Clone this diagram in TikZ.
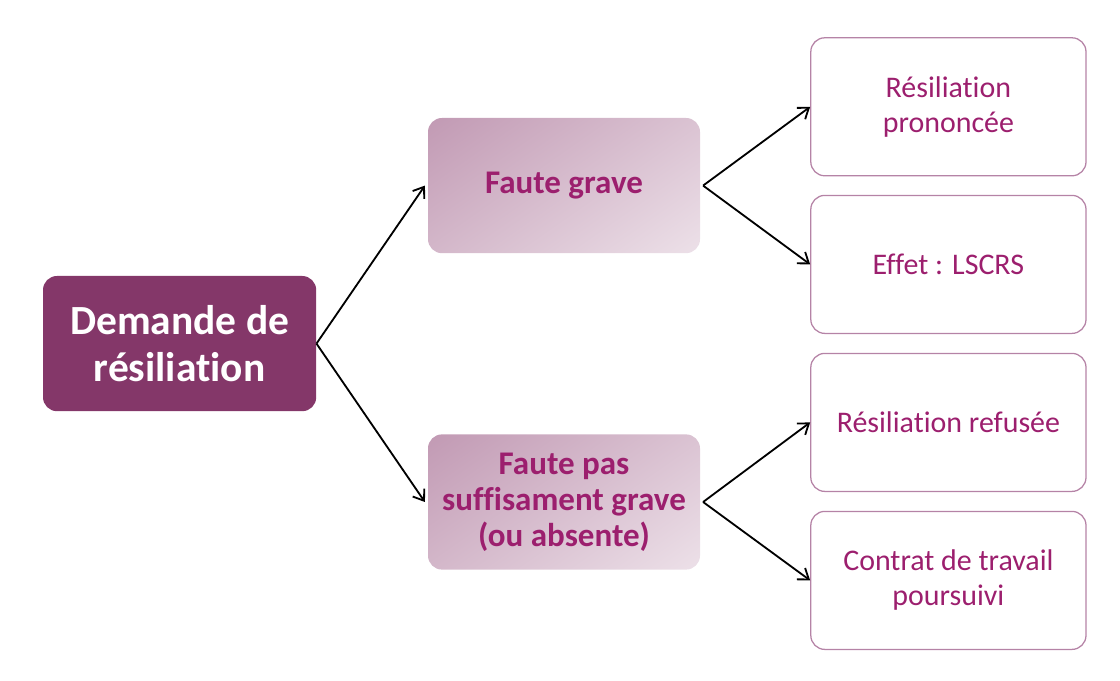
\documentclass[tikz,border=0pt]{standalone}
\usepackage{fontspec}
\setmainfont{Carlito}[Ligatures=NoCommon]
\usetikzlibrary{arrows.meta}

\definecolor{rootfill}{HTML}{843769}
\definecolor{plum}{HTML}{9C1F6E}
\definecolor{shadetop}{RGB}{184,138,168}
\definecolor{shadebot}{RGB}{246,240,244}
\definecolor{outcomeline}{HTML}{B583A6}
\pgfdeclareverticalshading{faultshade}{100bp}{color(0bp)=(shadebot); color(100bp)=(shadetop)}

\begin{document}
\begin{tikzpicture}[
        root/.style = {rectangle, rounded corners=0.35cm,
            fill=rootfill, text=white,
            minimum width=6.83cm, minimum height=3.38cm,
            align=center,
            font=\fontsize{29.5}{33.5}\selectfont\bfseries},
        fault/.style = {rectangle, rounded corners=0.35cm,
            shading=faultshade, shading angle=35,
            text=plum,
            minimum width=6.8cm, minimum height=3.38cm,
            align=center,
            font=\fontsize{23.5}{25.6}\selectfont\bfseries},
        outcome/.style = {rectangle, rounded corners=0.35cm,
            draw=outcomeline, line width=0.9pt, text=plum,
            minimum width=6.88cm, minimum height=3.45cm,
            align=center,
            font=\fontsize{21.3}{25}\selectfont},
        branch/.style = {line width=1.3pt,
            -{Straight Barb[length=7pt,width=10pt,line width=1.3pt]}}]

    \useasboundingbox (0,0) rectangle (28,17);

    % Demande
    \node[root] (dem) at (4.49,8.41) {Demande de\\résiliation};

    % Faute
    \node[fault] (grave) at (14.1,12.36) {Faute grave};
    \node[fault] (pasgrave) at (14.1,4.45) {Faute pas\\suffisament grave\\(ou absente)};

    % Issues
    \node[outcome] (prononcee) at (23.71,14.33) {Résiliation\\prononcée};
    \node[outcome] (lscrs) at (23.71,10.39) {Effet : LSCRS};
    \node[outcome] (refusee) at (23.71,6.44) {Résiliation refusée};
    \node[outcome] (poursuivi) at (23.71,2.49) {Contrat de travail\\poursuivi};

    % Arrows
    \draw[branch] (dem.east) -- ([xshift=-2pt]grave.west);
    \draw[branch] (dem.east) -- ([xshift=-2pt]pasgrave.west);
    \draw[branch] ([xshift=2pt]grave.east) -- (prononcee.west);
    \draw[branch] ([xshift=2pt]grave.east) -- (lscrs.west);
    \draw[branch] ([xshift=2pt]pasgrave.east) -- (refusee.west);
    \draw[branch] ([xshift=2pt]pasgrave.east) -- (poursuivi.west);

\end{tikzpicture}
\end{document}
